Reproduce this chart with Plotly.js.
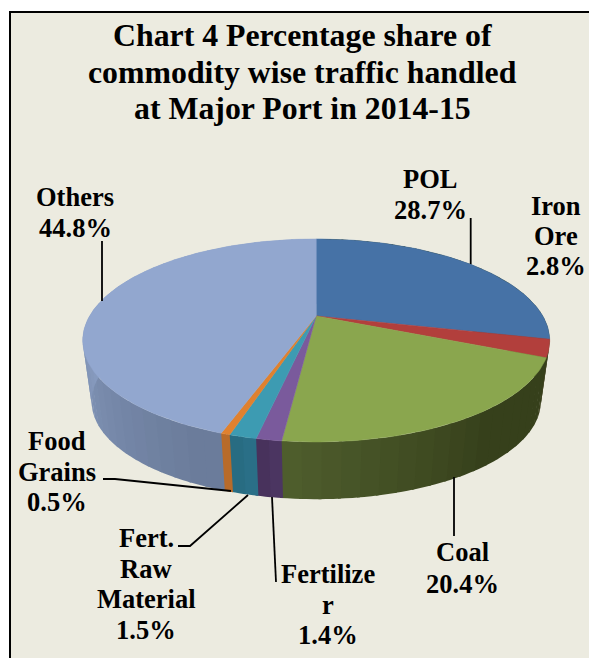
<!DOCTYPE html>
<html><head><meta charset="utf-8">
<script src="https://cdn.plot.ly/plotly-3.0.1.min.js"></script>
<style>html,body{margin:0;padding:0;background:#fff}#c{width:589px;height:658px}</style>
</head><body><div id="c"></div>
<script>
const categories = ['POL','Iron Ore','Coal','Fertilizer','Fert. Raw Material','Food Grains','Others'];
const shares = [28.7,2.8,20.4,1.4,1.5,0.5,44.8];
const faceColors = ['#4672a6','#b23f3c','#8aa64e','#7a5a9c','#3d9bb2','#e0812f','#92a7cf'];
const wallLight = ['#36401b','#3a3f1c','#4f5e2d','#4d3763','#2b7189','#bb6e2a','#90a5ca'];
const wallDark  = ['#36401b','#3a3f1c','#36401b','#46305a','#276a80','#b5682a','#6b7c9b'];

// Perspective projection of the tilted pie disc onto the page
const view = {cx:316.2, topY:316, botY:378, A:226.6, B:95.6, k:0.241, botScale:0.962};
function project(deg, level){
  const t = deg*Math.PI/180, u = Math.sin(t), v = Math.cos(t), w = 1 + view.k*v;
  const s = level ? view.botScale : 1, y0 = level ? view.botY : view.topY;
  return [view.cx + s*view.A*u/w, y0 - s*view.B*v/w];
}
function arc(a,b,level){
  const n = Math.max(2, Math.ceil((b-a)/1.5)), xs=[], ys=[];
  for(let i=0;i<=n;i++){const p=project(a+(b-a)*i/n,level); xs.push(p[0]); ys.push(p[1]);}
  return [xs,ys];
}
function mix(c1,c2,f){
  const h=c=>[1,3,5].map(i=>parseInt(c.substr(i,2),16));
  const a=h(c1),b=h(c2);
  return 'rgb('+a.map((x,i)=>Math.round(x+(b[i]-x)*f)).join(',')+')';
}
const total = shares.reduce((a,b)=>a+b,0);
let acc=0; const spans = shares.map(v=>{const a=acc/total*360; acc+=v; return [a,acc/total*360];});

const traces=[];
// side walls, painted in overlapping strips to give the reference's shading
spans.forEach((sp,i)=>{
  const n=Math.max(1,Math.ceil((sp[1]-sp[0])/4));
  for(let j=0;j<n;j++){
    const a=sp[0]+(sp[1]-sp[0])*j/n, b=sp[0]+(sp[1]-sp[0])*(j+1)/n;
    const T=arc(a,b+0.6,0), B=arc(a,b+0.6,1);
    const mid=(a+b)/2;
    let f;
    if(i===2) f=Math.min(1,(186.8-mid)/45);       // coal: dark toward the right
    else if(i===6) f=Math.max(0,Math.min(1,(290-mid)/85)); // others: dark toward the front
    else f=(j+0.5)/n;
    const col=mix(wallLight[i],wallDark[i],f);
    traces.push({type:'scatter',mode:'none',x:T[0].concat(B[0].slice().reverse()),y:T[1].concat(B[1].slice().reverse()),
      fill:'toself',fillcolor:col,hoverinfo:'skip',showlegend:false});
  }
});
// top faces
spans.forEach((sp,i)=>{
  const T=arc(sp[0],sp[1],0);
  traces.push({type:'scatter',mode:'lines',name:categories[i],
    x:[view.cx].concat(T[0],[view.cx]),y:[view.topY].concat(T[1],[view.topY]),
    fill:'toself',fillcolor:faceColors[i],line:{color:faceColors[i],width:0.5},hoverinfo:'name',showlegend:false});
});

const labelLines = [
  {x:430,y:[179,210],t:['POL','28.7%']},
  {x:556,y:[206,236,266],t:['Iron','Ore','2.8%']},
  {x:462,y:[552,584],t:['Coal','20.4%']},
  {x:328,y:[574,605,635],t:['Fertilize','r','1.4%']},
  {x:146,y:[538,569,599,630],t:['Fert.','Raw','Material','1.5%']},
  {x:57,y:[441,472,502],t:['Food','Grains','0.5%']},
  {x:75,y:[197,228],t:['Others','44.8%']}
];
const annotations=[];
labelLines.forEach(l=>l.t.forEach((s,i)=>annotations.push({xref:'x',yref:'y',x:l.x,y:l.y[i],text:s,showarrow:false,
  xanchor:'center',yanchor:'middle',font:{family:'"Liberation Serif","Times New Roman",serif',size:26.5,color:'#000'}})));
const titleLines=['Chart 4 Percentage share of','commodity wise traffic handled','at Major Port in 2014-15'];
const titleY=[35,72,108];

function seg(pts){return pts.map((p,i)=>(i?'L':'M')+p[0]+' '+p[1]).join(' ');}
const leaders=[
  [[102,241],[102,301]],
  [[470.7,218],[470.7,264]],
  [[454,477],[454,536]],
  [[272,497],[276,582]],
  [[178,546],[190,546],[248,495]],
  [[103,479],[115,479],[231,491]]
];
const shapes=[
  {type:'rect',xref:'x',yref:'y',x0:10,y0:12,x1:620,y1:690,fillcolor:'#ecebe0',line:{color:'#000',width:2},layer:'below'}
].concat(leaders.map(p=>({type:'path',xref:'x',yref:'y',path:seg(p),line:{color:'#000',width:1.8}})));

titleLines.forEach((s,i)=>annotations.push({xref:'x',yref:'y',x:302.5,y:titleY[i],text:s,showarrow:false,xanchor:'center',yanchor:'middle',
  font:{family:'"Liberation Serif","Times New Roman",serif',size:31.8,color:'#000'}}));
annotations.forEach(a=>{a.text='<b>'+a.text+'</b>';});

Plotly.newPlot('c',traces,{
  width:589,height:658,margin:{l:0,r:0,t:0,b:0},paper_bgcolor:'#fff',plot_bgcolor:'rgba(0,0,0,0)',
  xaxis:{range:[0,589],visible:false,fixedrange:true},
  yaxis:{range:[658,0],visible:false,fixedrange:true},
  showlegend:false,shapes:shapes,annotations:annotations
},{displayModeBar:false,staticPlot:true});
</script></body></html>
